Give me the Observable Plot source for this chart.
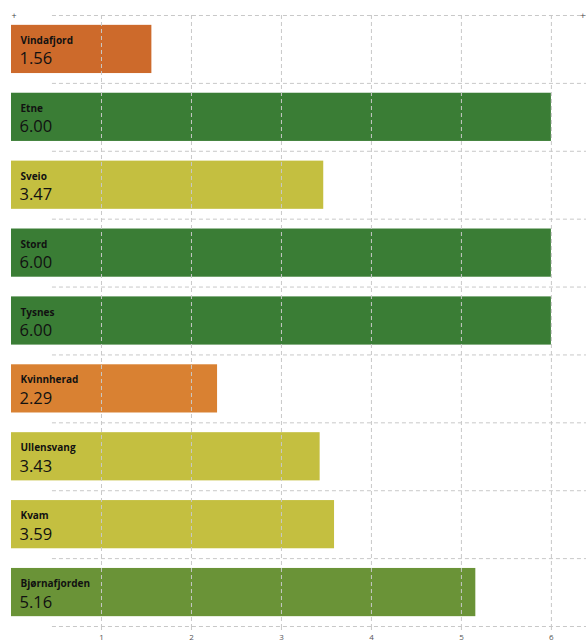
<!DOCTYPE html>
<html>
<head>
<meta charset="utf-8">
<script src="https://cdn.jsdelivr.net/npm/d3@7"></script>
<script src="https://cdn.jsdelivr.net/npm/@observablehq/plot@0.6"></script>
<style>
  html, body { margin: 0; padding: 0; background: #fff; }
  #chart svg { display: block; }
</style>
</head>
<body>
<div id="chart"></div>
<script>
const municipalities = ["Vindafjord", "Etne", "Sveio", "Stord", "Tysnes", "Kvinnherad", "Ullensvang", "Kvam", "Bjørnafjorden"];
const values = [1.56, 6.00, 3.47, 6.00, 6.00, 2.29, 3.43, 3.59, 5.16];
const colors = ["#cd6a2b", "#3a7d35", "#c4bf40", "#3a7d35", "#3a7d35", "#d98132", "#c4bf40", "#c4bf40", "#6a9337"];
const xTicks = [1, 2, 3, 4, 5, 6];

const data = municipalities.map((m, i) => ({name: m, value: values[i], color: colors[i]}));

const W = 586, H = 641, MT = 15, MB = 15, ML = 11, MR = 0;
const step = (H - MT - MB) / municipalities.length;
const gridStyle = {stroke: "#c8c8c8", strokeWidth: 1, strokeDasharray: "4,3", strokeOpacity: 1};
const font = "'Open Sans', 'Noto Sans', sans-serif";

const chart = Plot.plot({
  width: W,
  height: H,
  marginTop: MT,
  marginBottom: MB,
  marginLeft: ML,
  marginRight: MR,
  style: {fontFamily: font, background: "#fff"},
  x: {domain: [0, 6.39], label: null},
  y: {domain: municipalities, round: false, padding: 0.29, paddingOuter: 0.145, axis: null, label: null},
  color: {type: "identity"},
  marks: [
    Plot.barX(data, {y: "name", x: "value", fill: "color"}),
    // horizontal dashed separators at band boundaries
    Plot.ruleY(data, {y: "name", x1: 0.455, x2: 6.39, dy: -step / 2, ...gridStyle}),
    Plot.ruleY(data.slice(-1), {y: "name", x1: 0.455, x2: 6.39, dy: step / 2, ...gridStyle}),
    // vertical dashed grid on top of bars
    Plot.gridX(xTicks, {...gridStyle}),
    Plot.axisX(xTicks, {anchor: "bottom", tickSize: 6, tickPadding: 2, fontSize: 8, fill: "#555", stroke: "#c8c8c8", strokeDasharray: "4,3", tickFormat: d => String(d), label: null}),
    Plot.text(data, {y: "name", x: 0, text: "name", dx: 9, dy: -5.5, textAnchor: "start", lineAnchor: "bottom", fontWeight: "bold", fontSize: 10, fill: "#111"}),
    Plot.text(data, {y: "name", x: 0, text: d => d.value.toFixed(2), dx: 8, dy: 15, textAnchor: "start", lineAnchor: "bottom", fontSize: 16.5, fill: "#111"}),
    Plot.text(["+"], {frameAnchor: "top-left", dy: -3, fontSize: 9, fill: "#444"}),
    Plot.text(["+"], {frameAnchor: "top-right", dx: -1, dy: -3, fontSize: 9, fill: "#444"})
  ]
});

document.getElementById("chart").appendChild(chart);
</script>
</body>
</html>
